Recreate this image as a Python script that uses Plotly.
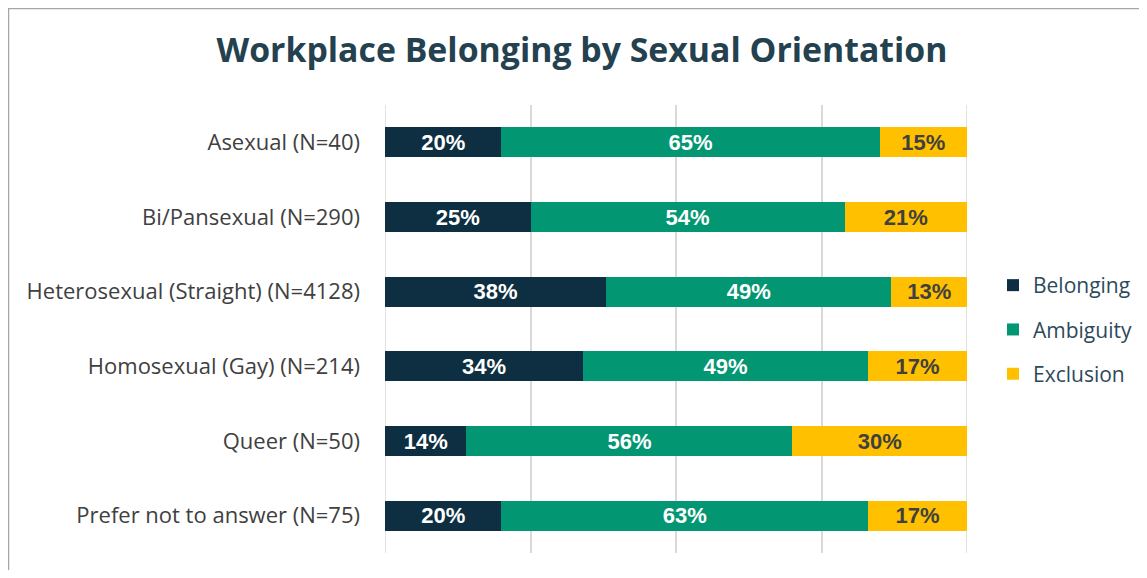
import plotly.graph_objects as go

categories = ["Asexual (N=40)", "Bi/Pansexual (N=290)", "Heterosexual (Straight) (N=4128)",
              "Homosexual (Gay) (N=214)", "Queer (N=50)", "Prefer not to answer (N=75)"]
belonging = [20, 25, 38, 34, 14, 20]
ambiguity = [65, 54, 49, 49, 56, 63]
exclusion = [15, 21, 13, 17, 30, 17]
x_ticks = [0, 25, 50, 75, 100]

series = [
    ("Belonging", belonging, "#0d2f41", "white"),
    ("Ambiguity", ambiguity, "#029672", "white"),
    ("Exclusion", exclusion, "#ffc000", "#404040"),
]

OFF = 8  # page body margin
W, H = 1147 - OFF, 578 - 2 * OFF
L, R, T, B = 385 - OFF, 967 - OFF, 105 - OFF, 553 - OFF
pw, ph = R - L, B - T

def px(x):
    return (x - OFF - L) / pw

def py(y):
    return (B - (y - OFF)) / ph

fig = go.Figure()
for name, vals, color, tcolor in series:
    fig.add_trace(go.Bar(
        name=name, y=categories, x=vals, orientation="h", legendgroup=name,
        marker=dict(color=color, line=dict(width=0)),
        text=[f"{v}%" for v in vals], textposition="inside", insidetextanchor="middle",
        textfont=dict(family="Liberation Sans, Arial", size=22, color=tcolor, weight="bold"),
        textangle=0, constraintext="none", hoverinfo="skip",
    ))

shapes = [dict(type="rect", xref="paper", yref="paper",
               x0=px(8.5), y0=py(800), x1=px(1400), y1=py(8.5),
               line=dict(color="#a6a6a6", width=1.5), fillcolor="rgba(0,0,0,0)", layer="below")]
for edge in (x_ticks[0], x_ticks[-1]):
    shapes.append(dict(type="line", xref="x", yref="paper", x0=edge, x1=edge, y0=0, y1=1,
                       line=dict(color="#d9d9d9", width=1.5), layer="below"))

fig.update_layout(
    width=W, height=H,
    barmode="stack", bargap=0.6,
    margin=dict(l=L, r=W - R, t=T, b=H - B, autoexpand=False),
    paper_bgcolor="white", plot_bgcolor="white",
    title=dict(text="<b>Workplace Belonging by Sexual Orientation</b>",
               x=(582 - OFF) / W, xanchor="center", y=1 - (50 - OFF) / H, yanchor="middle",
               font=dict(family="Open Sans, Inter, sans-serif", size=33.8, color="#24414f")),
    xaxis=dict(range=[0, 100], tickvals=x_ticks, showticklabels=False, showgrid=True,
               gridcolor="#d9d9d9", gridwidth=1.5, zeroline=False, showline=False, fixedrange=True),
    yaxis=dict(autorange="reversed", showgrid=False, zeroline=False, showline=False,
               ticks="", ticklabelstandoff=24,
               tickfont=dict(family="Open Sans, sans-serif", size=22, color="#404040")),
    legend=dict(x=px(993), xanchor="left", y=py(265), yanchor="top",
                font=dict(family="Open Sans, sans-serif", size=21, color="#2d4a5a"),
                traceorder="grouped", itemwidth=30, tracegroupgap=14, bgcolor="rgba(0,0,0,0)"),
    showlegend=True,
    shapes=shapes,
)

fig.write_html("out.html")
